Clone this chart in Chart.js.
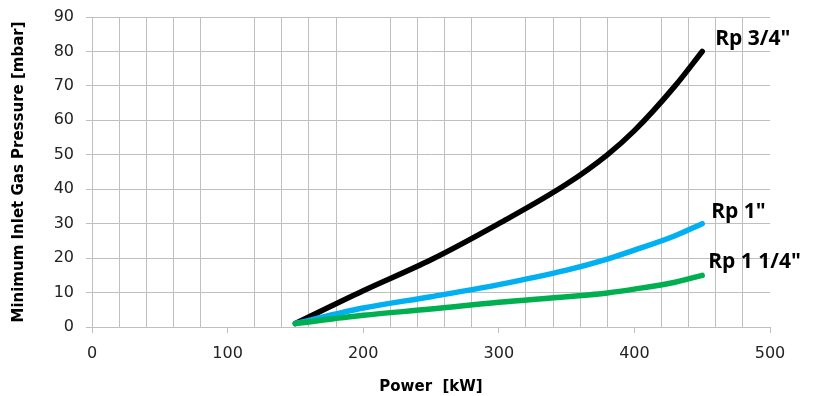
<!DOCTYPE html>
<html>
<head>
<meta charset="utf-8">
<script src="https://cdn.jsdelivr.net/npm/chart.js@4.4.1/dist/chart.umd.min.js"></script>
<style>
  html, body { margin: 0; padding: 0; background: #fff; }
  #wrap { width: 819px; height: 396px; }
</style>
</head>
<body>
<div id="wrap"><canvas id="myChart"></canvas></div>
<script>
// Power [kW]
const power = [150, 200, 250, 300, 350, 380, 400, 430, 450];
// Minimum inlet gas pressure [mbar]
const rp34 = [1, 10.5, 19.5, 30, 41.5, 50, 57, 70, 80];
const rp1 = [1, 5.5, 8.8, 12.3, 16.5, 19.7, 22.3, 26.5, 30];
const rp114 = [1, 3.4, 5.2, 7.2, 8.8, 9.9, 11, 13, 15];
const seriesNames = ['Rp 3/4"', 'Rp 1"', 'Rp 1 1/4"'];
const seriesColors = ['#000000', '#00b0f0', '#00b050'];

const gridGray = '#bfbfbf';

function toPoints(ys) {
  return power.map((x, i) => ({ x: x, y: ys[i] }));
}

// names drawn at the end of each curve (offsets from the last point)
const labelOffsets = { 'Rp 3/4"': [13, -12], 'Rp 1"': [9, -12], 'Rp 1 1/4"': [6, -13] };
const endLabels = {
  id: 'endLabels',
  afterDatasetsDraw(chart) {
    const ctx = chart.ctx;
    ctx.save();
    ctx.font = 'bold 21px "Open Sans", "Liberation Sans", sans-serif';
    ctx.fillStyle = '#000';
    ctx.textBaseline = 'middle';
    chart.data.datasets.forEach((ds, i) => {
      const meta = chart.getDatasetMeta(i);
      const last = meta.data[meta.data.length - 1];
      const off = labelOffsets[ds.label];
      ctx.fillText(ds.label, last.x + off[0], last.y + off[1]);
    });
    ctx.restore();
  }
};

const ctx = document.getElementById('myChart').getContext('2d');

const pressureChart = new Chart(ctx, {
  type: 'line',
  data: {
    datasets: [rp34, rp1, rp114].map((ys, i) => ({
      label: seriesNames[i],
      data: toPoints(ys),
      borderColor: seriesColors[i],
      borderWidth: 5.5,
      borderCapStyle: 'round',
      pointRadius: 0,
      fill: false,
      cubicInterpolationMode: 'monotone'
    })).reverse()
  },
  options: {
    responsive: true,
    maintainAspectRatio: false,
    animation: false,
    layout: { padding: { left: 10, right: 49, top: 17, bottom: 0 } },
    plugins: {
      legend: { display: false },
      tooltip: { enabled: false }
    },
    scales: {
      // thin grid lines every 20 kW, skipping the hundreds
      x2: {
        type: 'linear',
        position: 'bottom',
        min: 0,
        max: 500,
        afterBuildTicks: (s) => { s.ticks = s.ticks.filter(t => t.value % 100 !== 0); },
        afterFit: (s) => { s.height = 0; },
        ticks: { display: false, stepSize: 20, autoSkip: false },
        grid: { color: gridGray, drawTicks: false },
        border: { display: false }
      },
      // labelled axis: tick marks and labels on the hundreds only
      x: {
        type: 'linear',
        position: 'bottom',
        min: 0,
        max: 500,
        afterFit: (s) => { s.height = 69; },
        ticks: {
          stepSize: 100,
          maxRotation: 0,
          padding: 11,
          color: '#222',
          font: { family: '"DejaVu Sans", sans-serif', size: 16 }
        },
        grid: {
          drawOnChartArea: false,
          tickColor: gridGray,
          tickLength: 6
        },
        border: { color: gridGray, width: 1 },
        title: {
          display: true,
          text: 'Power  [kW]',
          color: '#000',
          padding: { top: 0, bottom: 0 },
          font: { family: '"DejaVu Sans", sans-serif', size: 15, weight: 'bold' }
        }
      },
      y: {
        min: 0,
        max: 90,
        afterFit: (s) => { s.width = 82; s.paddingTop = 0; s.paddingBottom = 0; },
        ticks: {
          stepSize: 10,
          padding: 12,
          color: '#222',
          font: { family: '"DejaVu Sans", sans-serif', size: 16 }
        },
        grid: {
          color: gridGray,
          tickLength: 6
        },
        border: { color: gridGray, width: 1 },
        title: {
          display: true,
          text: 'Minimum Inlet Gas Pressure [mbar]',
          color: '#000',
          padding: { top: 0, bottom: 0 },
          font: { family: '"DejaVu Sans", sans-serif', size: 15, weight: 'bold' }
        }
      }
    }
  },
  plugins: [endLabels]
});
</script>
</body>
</html>
